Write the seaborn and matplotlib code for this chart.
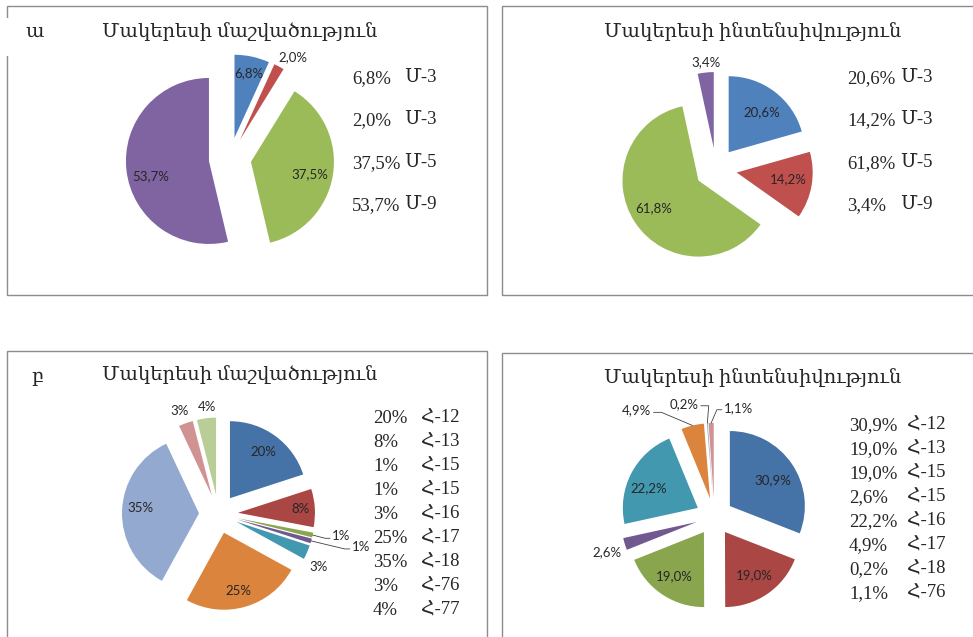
import numpy as np
import matplotlib.pyplot as plt
import seaborn as sns
from matplotlib.patches import Rectangle

# Տվյալներ (data)
title_wear = 'Մակերեսի մաշվածություն'
title_int = 'Մակերեսի ինտենսիվություն'
panel_tags = ['ա', 'բ']

m_codes = ['Մ-3', 'Մ-3', 'Մ-5', 'Մ-9']
m_wear = [6.8, 2.0, 37.5, 53.7]
m_int = [20.6, 14.2, 61.8, 3.4]

h_wear_codes = ['Հ-12', 'Հ-13', 'Հ-15', 'Հ-15', 'Հ-16', 'Հ-17', 'Հ-18', 'Հ-76', 'Հ-77']
h_wear = [20, 8, 1, 1, 3, 25, 35, 3, 4]
h_int_codes = ['Հ-12', 'Հ-13', 'Հ-15', 'Հ-15', 'Հ-16', 'Հ-17', 'Հ-18', 'Հ-76']
h_int = [30.9, 19.0, 19.0, 2.6, 22.2, 4.9, 0.2, 1.1]

office = ['#4F81BD', '#C0504D', '#9BBB59', '#8064A2']
excel = ['#4572A7', '#AA4643', '#89A54E', '#71588F', '#4198AF',
         '#DB843D', '#93A9CF', '#D19392', '#B9CD96']

sns.set_style('white')
plt.rcParams['font.family'] = ['Liberation Serif', 'DejaVu Serif', 'DejaVu Sans']
lbl_font = ['Lato', 'DejaVu Sans']

W, H = 973, 637
fig = plt.figure(figsize=(W / 100, H / 100), dpi=100)
ax = fig.add_axes([0, 0, 1, 1])


def fy(y):
    return H - y


def pct(v, dec=1):
    return f'{v:.{dec}f}'.replace('.', ',') + '%'


def draw_pie(values, colors, cx, cy, r, d, dec, lab_f, lab_dt, leader=None):
    wedges, _ = ax.pie(values, colors=colors[:len(values)], radius=r,
                       center=(cx, fy(cy)), explode=[d] * len(values),
                       startangle=90, counterclock=False,
                       wedgeprops=dict(linewidth=0))
    leader = leader or {}
    for i, w in enumerate(wedges):
        mid = (w.theta1 + w.theta2) / 2
        th = np.deg2rad(mid + lab_dt[i])
        x0, y0 = w.center
        tx = x0 + lab_f[i] * r * np.cos(th)
        ty = y0 + lab_f[i] * r * np.sin(th)
        txt = pct(values[i], dec)
        if i in leader:
            side = leader[i]
            ha = 'right' if side < 0 else 'left'
            ax.text(tx, ty, txt, ha=ha, va='center', fontsize=9.5,
                    family=lbl_font, color='#262626')
            ex = x0 + r * np.cos(np.deg2rad(mid))
            ey = y0 + r * np.sin(np.deg2rad(mid))
            sx = tx + (2 if side < 0 else -2)
            kx = tx + (10 if side < 0 else -7)
            ax.plot([sx, kx, ex], [ty - 2, ty - 2, ey], color='#404040', lw=0.6)
        else:
            ax.text(tx, ty, txt, ha='center', va='center', fontsize=9.5,
                    family=lbl_font, color='#262626')


def legend(values, codes, x1, x2, y0, step, dec):
    for i, (v, c) in enumerate(zip(values, codes)):
        ax.text(x1, fy(y0 + i * step), pct(v, dec), ha='left', va='baseline', fontsize=13.5)
        ax.text(x2, fy(y0 + i * step), c, ha='left', va='baseline', fontsize=13.5)


# panel frames
for (x0, y0, x1, y1) in [(7, 6, 487, 295), (502, 6, 990, 295),
                         (7, 351, 487, 660), (502, 353, 990, 660)]:
    ax.add_patch(Rectangle((x0, fy(y1)), x1 - x0, y1 - y0, fill=False,
                           edgecolor='#8C8C8C', lw=1.0, clip_on=False, zorder=1))
ax.add_patch(Rectangle((0, fy(56)), 67, 38, facecolor='white', edgecolor='none', zorder=2))

# titles
ax.text(240, fy(37), title_wear, ha='center', va='baseline', fontsize=14)
ax.text(753, fy(37), title_int, ha='center', va='baseline', fontsize=14)
ax.text(240, fy(380), title_wear, ha='center', va='baseline', fontsize=14)
ax.text(753, fy(383), title_int, ha='center', va='baseline', fontsize=14)
ax.text(35, fy(38), panel_tags[0], ha='center', va='baseline', fontsize=14, zorder=3)
ax.text(37, fy(382), panel_tags[1], ha='center', va='baseline', fontsize=14)

# ա - վերին
draw_pie(m_wear, office, 230, 158.5, 83, 21.2, 1,
         [0.80, 1.18, 0.73, 0.72], [0, -4.5, -2.4, 7.8])
legend(m_wear, m_codes, 352, 404, 83, 42.3, 1)

draw_pie(m_int, office, 716, 169, 76, 21, 1,
         [0.69, 0.69, 0.69, 1.14], [-2.5, 2.6, -1.9, -0.9])
legend(m_int, m_codes, 847, 900, 83, 42.3, 1)

# բ - ստորին
draw_pie(h_wear, excel, 218.5, 514, 77, 19.5, 0,
         [0.74, 0.81, 1.25, 1.53, 1.22, 0.78, 0.77, 1.18, 1.14],
         [0, 0, 1.8, 2.7, -5.3, -1.8, -3.6, 0.8, -1.3],
         leader={2: 1, 3: 1})
legend(h_wear, h_wear_codes, 373, 421, 423, 24, 0)

draw_pie(h_int, excel, 714.4, 516.6, 75, 18.7, 1,
         [0.67, 0.70, 0.71, 1.26, 0.70, 1.41, 1.27, 1.21],
         [-3.4, 0, 0, 1.7, 6, 20.1, 4.3, -8.4],
         leader={5: -1, 6: -1, 7: 1})
legend(h_int, h_int_codes, 849, 907, 430, 24, 1)

ax.set_xlim(0, W)
ax.set_ylim(0, H)
ax.axis('off')

fig.savefig('out.png', dpi=100, facecolor='white')
